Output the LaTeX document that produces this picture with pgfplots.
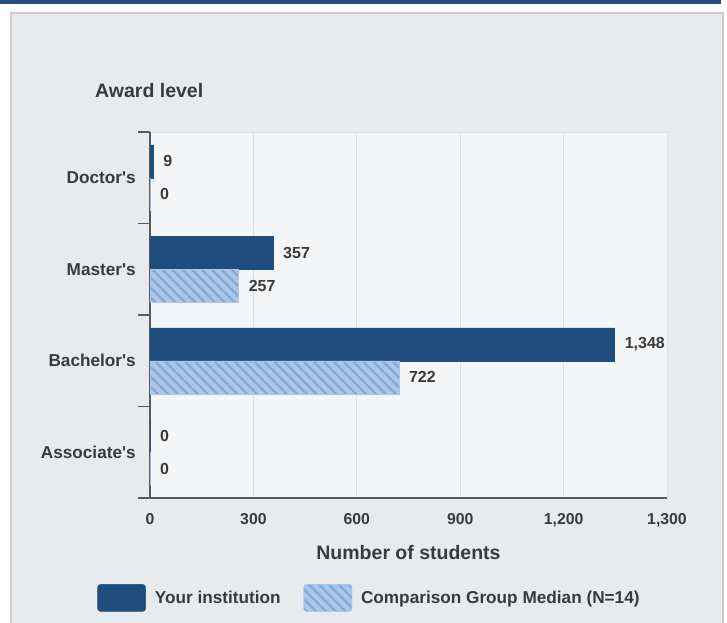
\documentclass[border=0pt]{standalone}
\usepackage{fontspec}
\setmainfont{Liberation Sans}[Ligatures=TeXOff]
\usepackage{pgfplots}
\pgfplotsset{compat=1.18}
\usetikzlibrary{patterns.meta}
\definecolor{dblue}{HTML}{1F4E7D}
\definecolor{topbar}{HTML}{244F7F}
\definecolor{lblue}{HTML}{A9C7EA}
\definecolor{hblue}{HTML}{86A7CE}
\definecolor{panel}{HTML}{E8EBEE}
\definecolor{plotbg}{HTML}{F4F5F7}
\definecolor{txt}{HTML}{3A3A3A}
\definecolor{axisc}{HTML}{5A5A5A}
\definecolor{gridc}{HTML}{DCDFE3}
\newcommand\labfont{\bfseries\fontsize{17.2}{20}\selectfont}
\newcommand\tickfont{\bfseries\fontsize{15.8}{19}\selectfont}
\newcommand\valfont{\bfseries\fontsize{16}{19}\selectfont}
\newcommand\titfont{\bfseries\fontsize{19.5}{23}\selectfont}
\begin{document}
\begin{tikzpicture}[x=1pt,y=1pt]
\useasboundingbox (0,0) rectangle (727,622);
\fill[white] (0,0) rectangle (727,622);
\fill[topbar] (0,618) rectangle (721,622);
\filldraw[fill=panel, draw=black!20, line width=2pt] (11,-5) rectangle (723,609);
\node[anchor=west, font=\titfont, text=txt, inner sep=0pt] at (95,531) {Award level};
\begin{axis}[
  at={(150pt,124pt)}, anchor=south west,
  scale only axis, width=517pt, height=366pt,
  xbar, bar width=33pt,
  xmin=0, xmax=1500, ymin=-0.5, ymax=3.5,
  xtick={0,300,600,900,1200,1500},
  xticklabels={0,300,600,900,{1,200},{1,300}},
  ytick={0,1,2,3},
  yticklabels={Associate's,Bachelor's,Master's,Doctor's},
  extra y ticks={-0.5,0.5,1.5,2.5,3.5},
  extra y tick labels={},
  extra y tick style={major tick length=12pt, tick style={axisc, line width=1.5pt}, ymajorgrids=false},
  major tick length=0pt,
  tick align=outside,
  axis x line*=bottom, axis y line*=left,
  axis line style={-, axisc, line width=1.5pt},
  xmajorgrids, grid style={gridc, line width=1pt},
  axis background/.style={fill=plotbg, draw=gridc},
  /pgf/number format/assume math mode=true,
  yticklabel style={font=\labfont, text=txt, inner sep=0pt, xshift=-14pt},
  xticklabel style={font=\tickfont, text=txt, inner sep=0pt, yshift=-15pt},
  xlabel={Number of students},
  xlabel style={font=\titfont, text=txt, at={(axis description cs:0.5,-0.1503)}, anchor=center},
  nodes near coords={\pgfmathprintnumber[1000 sep={,}]{\pgfplotspointmeta}},
  every node near coord/.append style={font=\valfont, text=txt, anchor=west, inner sep=0pt, xshift=10pt},
  legend style={at={(0.4246,-0.273)}, anchor=center, draw=none, fill=none,
    legend columns=2, font=\labfont, text=txt, inner sep=0pt,
    /tikz/every even column/.append style={column sep=21pt}},
  legend image code/.code={\draw[#1,/tikz/.cd, rounded corners=3pt] (0pt,-13.5pt) rectangle (48pt,13.5pt); \path (55pt,0pt);},
]
\addplot[fill=dblue, draw=dblue, bar shift=16.5pt] coordinates {(0,0) (1348,1) (357,2) (9,3)};
\addplot[fill=lblue, draw=lblue, bar shift=-16.5pt,
  postaction={pattern={Lines[angle=-45, distance=7pt, line width=2.2pt]}, pattern color=hblue}]
  coordinates {(0,0) (722,1) (257,2) (0,3)};
\legend{Your institution, Comparison Group Median (N=14)}
\end{axis}
\end{tikzpicture}
\end{document}
